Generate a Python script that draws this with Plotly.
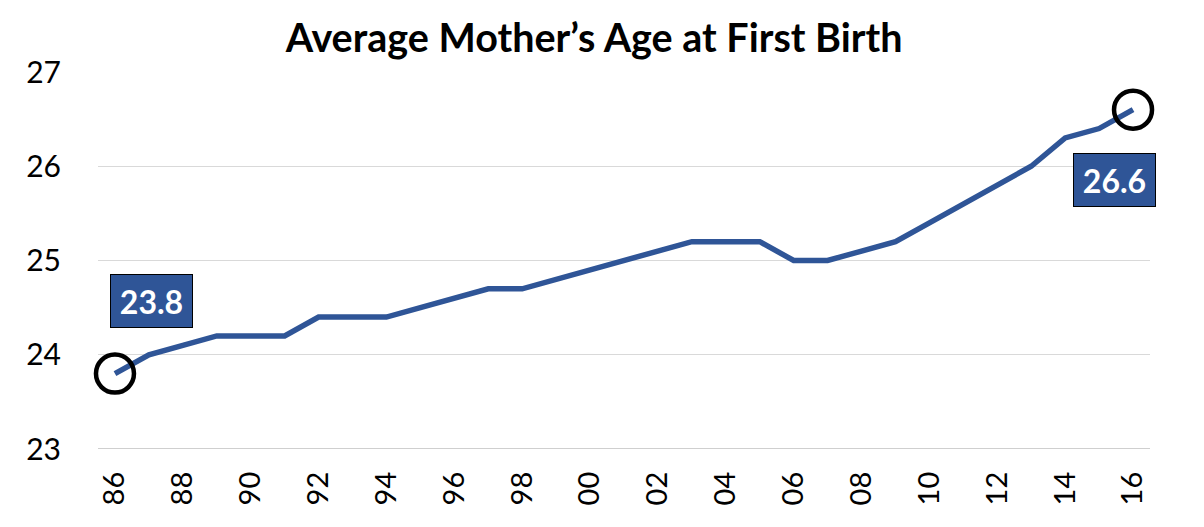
import plotly.graph_objects as go

years = list(range(1986, 2017))
ages = [23.8, 24.0, 24.1, 24.2, 24.2, 24.2, 24.4, 24.4, 24.4, 24.5,
        24.6, 24.7, 24.7, 24.8, 24.9, 25.0, 25.1, 25.2, 25.2, 25.2,
        25.0, 25.0, 25.1, 25.2, 25.4, 25.6, 25.8, 26.0, 26.3, 26.4, 26.6]
tick_years = list(range(1986, 2017, 2))
tick_labels = [f"{y % 100:02d}" for y in tick_years]
y_ticks = [23, 24, 25, 26, 27]

BLUE = "#2F5597"
FONT = "Lato, Carlito, 'Liberation Sans', sans-serif"

fig = go.Figure()
fig.add_trace(go.Scatter(x=years, y=ages, mode="lines",
                         line=dict(color=BLUE, width=5.5), hoverinfo="skip"))
ends_x = [years[0], years[-1]]
ends_y = [ages[0], ages[-1]]
fig.add_trace(go.Scatter(x=ends_x, y=ends_y, mode="markers", cliponaxis=False,
                         marker=dict(size=38, color="rgba(0,0,0,0)",
                                     line=dict(color="black", width=4.5)),
                         hoverinfo="skip"))

fig.add_annotation(x=ends_x[0], y=ends_y[0], xref="x", yref="y",
                   text=f"<b>{ends_y[0]:.1f}</b>", showarrow=False,
                   xshift=37, yshift=73, width=81, height=52,
                   bgcolor=BLUE, bordercolor="black", borderwidth=1, borderpad=0,
                   font=dict(family=FONT, size=32, color="white"))
fig.add_annotation(x=ends_x[1], y=ends_y[1], xref="x", yref="y",
                   text=f"<b>{ends_y[1]:.1f}</b>", showarrow=False,
                   xshift=-19, yshift=-70, width=81, height=52,
                   bgcolor=BLUE, bordercolor="black", borderwidth=1, borderpad=0,
                   font=dict(family=FONT, size=32, color="white"))

fig.update_layout(
    width=1196, height=519,
    paper_bgcolor="white", plot_bgcolor="white",
    margin=dict(l=90, r=54, t=64, b=78, autoexpand=False),
    showlegend=False,
    title=dict(text="<b>Average Mother\u2019s Age at First Birth</b>",
               x=0.49, xanchor="center", y=0.942, yanchor="middle",
               font=dict(family=FONT, size=39.5, color="black")),
    xaxis=dict(range=[1985.5, 2016.5], tickvals=tick_years, ticktext=tick_labels,
               tickangle=-90, showgrid=False, zeroline=False, showline=False,
               ticks="", ticklabelstandoff=16, automargin=False,
               tickfont=dict(family=FONT, size=29, color="black")),
    yaxis=dict(range=[23, 27], tickvals=y_ticks, showgrid=True,
               gridcolor="#D9D9D9", gridwidth=1, zeroline=False,
               showline=False, ticks="", ticklabelstandoff=36, automargin=False,
               tickfont=dict(family=FONT, size=30, color="black")),
)
fig.add_shape(type="line", xref="paper", yref="y", x0=0, x1=1, y0=23, y1=23,
              line=dict(color="#BFBFBF", width=1.5), layer="below")

fig.write_html("out.html")
